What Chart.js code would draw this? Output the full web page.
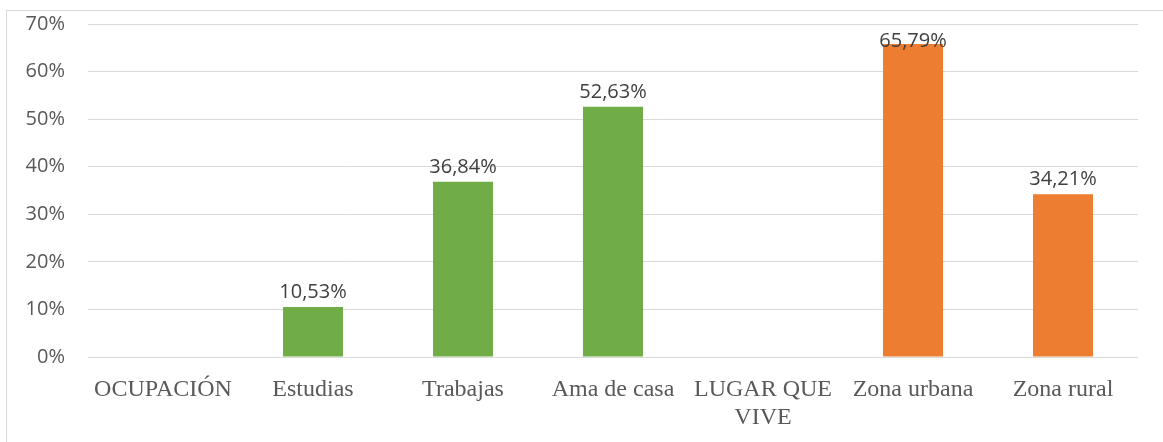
<!DOCTYPE html>
<html>
<head>
<meta charset="utf-8">
<script src="https://cdn.jsdelivr.net/npm/chart.js@4.4.0/dist/chart.umd.min.js"></script>
<style>
    html, body { margin: 0; padding: 0; background: #fff; }
    #wrap { position: relative; width: 1163px; height: 442px; }
    #frame { position: absolute; left: 6px; top: 10px; right: -2px; bottom: -2px; border: 1px solid #D9D9D9; }
    canvas { position: absolute; left: 0; top: 0; }
</style>
</head>
<body>
<div id="wrap">
    <div id="frame"></div>
    <canvas id="chart" width="1163" height="442"></canvas>
</div>
<script>
// categories (header rows have no bar)
const categories = ['OCUPACIÓN', 'Estudias', 'Trabajas', 'Ama de casa', ['LUGAR QUE', 'VIVE'], 'Zona urbana', 'Zona rural'];
// percentages
const values = [null, 10.53, 36.84, 52.63, null, 65.79, 34.21];
const groups = ['header', 'ocupacion', 'ocupacion', 'ocupacion', 'header', 'lugar', 'lugar'];
const yTicks = [0, 10, 20, 30, 40, 50, 60, 70];

const groupColors = { header: '#FFFFFF', ocupacion: '#70AD47', lugar: '#ED7D31' };

// Data labels above each bar, "52,63%" style
const barLabels = {
    id: 'barLabels',
    afterDatasetsDraw(chart) {
        const ctx = chart.ctx;
        const meta = chart.getDatasetMeta(0);
        ctx.save();
        ctx.font = '20px "Open Sans", sans-serif';
        ctx.fillStyle = '#404040';
        ctx.textAlign = 'center';
        ctx.textBaseline = 'alphabetic';
        meta.data.forEach((bar, i) => {
            const v = values[i];
            if (v === null) return;
            const y = Math.max(bar.y - 9, chart.chartArea.top + 23);
            ctx.fillText(v.toFixed(2).replace('.', ',') + '%', bar.x, y);
        });
        ctx.restore();
    }
};

new Chart(document.getElementById('chart').getContext('2d'), {
    type: 'bar',
    data: {
        labels: categories,
        datasets: [{
            data: values,
            backgroundColor: groups.map(g => groupColors[g]),
            barPercentage: 0.4,
            categoryPercentage: 1.0
        }]
    },
    options: {
        responsive: false,
        animation: false,
        layout: { padding: { top: 24, right: 25, left: 0, bottom: 0 } },
        plugins: { legend: { display: false }, tooltip: { enabled: false } },
        scales: {
            x: {
                grid: { display: false },
                border: { display: false },
                ticks: {
                    color: '#595959',
                    font: { family: '"Liberation Serif", "Times New Roman", serif', size: 24, lineHeight: 1.15 },
                    padding: 11,
                    maxRotation: 0,
                    autoSkip: false
                },
                afterFit(scale) { scale.height = 85; }
            },
            y: {
                min: 0,
                max: 70,
                afterBuildTicks(scale) { scale.ticks = yTicks.map(v => ({ value: v })); },
                grid: { color: '#D9D9D9', lineWidth: 1, drawTicks: false },
                border: { display: false },
                ticks: {
                    color: '#595959',
                    font: { family: '"Open Sans", sans-serif', size: 20 },
                    padding: 23,
                    callback: v => v + '%'
                },
                afterFit(scale) {
                    scale.width = 88;
                    scale.paddingTop = 0;
                    scale.paddingBottom = 0;
                }
            }
        }
    },
    plugins: [barLabels]
});
</script>
</body>
</html>
